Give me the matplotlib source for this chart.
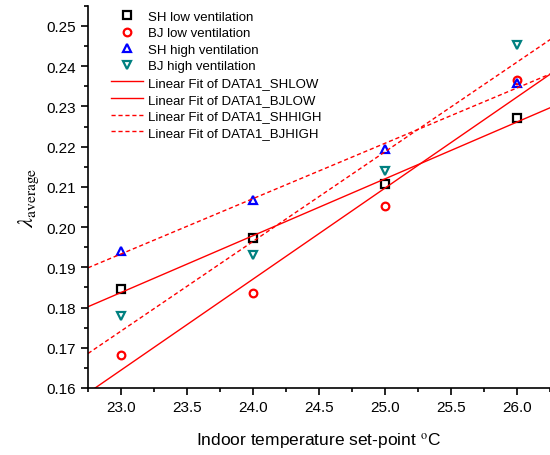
import numpy as np
import matplotlib
matplotlib.use("Agg")
import matplotlib.pyplot as plt

plt.rcParams["font.family"] = ["Liberation Sans", "DejaVu Sans"]
plt.rcParams["mathtext.fontset"] = "stix"

temps = [23.0, 24.0, 25.0, 26.0]
sh_low = [0.1845, 0.1973, 0.2108, 0.2271]
bj_low = [0.1683, 0.1835, 0.2052, 0.2365]
sh_high = [0.1940, 0.2068, 0.2193, 0.2357]
bj_high = [0.1780, 0.1930, 0.2140, 0.2453]

series = [
    ("SH low ventilation", sh_low, "s", "black"),
    ("BJ low ventilation", bj_low, "o", "red"),
    ("SH high ventilation", sh_high, "^", "blue"),
    ("BJ high ventilation", bj_high, "v", "#008080"),
]
fits = [
    ("Linear Fit of DATA1_SHLOW", sh_low, "-"),
    ("Linear Fit of DATA1_BJLOW", bj_low, "-"),
    ("Linear Fit of DATA1_SHHIGH", sh_high, (0, (3, 2))),
    ("Linear Fit of DATA1_BJHIGH", bj_high, (0, (3, 2))),
]

fig = plt.figure(figsize=(5.5, 4.56), dpi=100)
ax = fig.add_axes([0.16, 0.147, 0.84, 0.838])

for name, ys, mk, col in series:
    ax.plot(temps, ys, linestyle="none", marker=mk, markersize=5.5,
            markerfacecolor="none", markeredgecolor=col, markeredgewidth=1.6,
            label=name)

xs = np.array([22.75, 26.3])
for name, ys, ls in fits:
    k, b = np.polyfit(temps, ys, 1)
    ax.plot(xs, k * xs + b, color="red", linestyle=ls, linewidth=1.0, label=name)

ax.set_xlim(22.75, 26.25)
ax.set_ylim(0.16, 0.255)
ax.set_xticks([23.0, 23.5, 24.0, 24.5, 25.0, 25.5, 26.0])
ax.set_xticks(np.arange(22.75, 26.3, 0.25), minor=True)
ax.set_yticks(np.arange(0.16, 0.2551, 0.01))
ax.set_yticks(np.arange(0.16, 0.2551, 0.005), minor=True)
ax.xaxis.set_major_formatter(matplotlib.ticker.FormatStrFormatter("%.1f"))
ax.yaxis.set_major_formatter(matplotlib.ticker.FormatStrFormatter("%.2f"))

for side in ("top", "right"):
    ax.spines[side].set_visible(False)
for side in ("left", "bottom"):
    ax.spines[side].set_linewidth(1.2)

ax.tick_params(which="major", direction="out", length=5, width=1.2, labelsize=11)
ax.tick_params(which="minor", direction="out", length=3, width=1.2)

ax.set_xlabel("Indoor temperature set-point $^{\\rm o}$C", fontsize=12.5, labelpad=12)
ax.set_ylabel(r"$\lambda_{\mathrm{average}}$", fontsize=16, labelpad=4)

ax.legend(loc="upper left", bbox_to_anchor=(0.03, 1.012), frameon=False,
          fontsize=9.5, handlelength=2.4, handletextpad=0.4, labelspacing=0.33,
          borderpad=0.2)

fig.savefig("out.png", dpi=100)
